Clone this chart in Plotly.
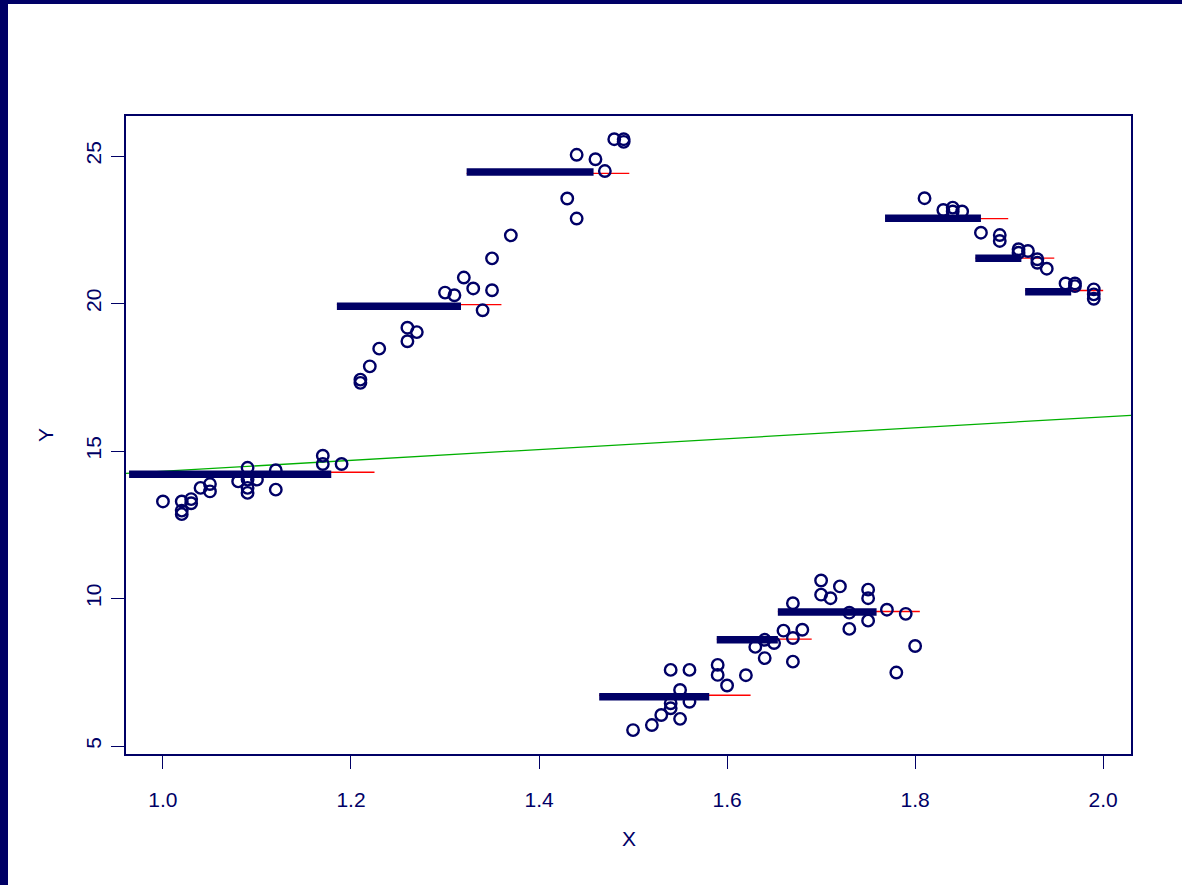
import plotly.graph_objects as go

NAVY = "#000066"
FONT = "Liberation Sans, Arial, Helvetica, sans-serif"

# observations (x on a 0.01 grid)
x_obs = [
    1.00, 1.02, 1.02, 1.02, 1.03, 1.03, 1.04, 1.05, 1.05, 1.08,
    1.09, 1.09, 1.09, 1.09, 1.10, 1.12, 1.12, 1.17, 1.17, 1.19,
    1.21, 1.21, 1.22, 1.23, 1.26, 1.26, 1.27, 1.30, 1.31, 1.32,
    1.33, 1.34, 1.35, 1.35, 1.37,
    1.43, 1.44, 1.44, 1.46, 1.47, 1.48, 1.49, 1.49,
    1.50, 1.52, 1.53, 1.54, 1.54, 1.54, 1.55, 1.55, 1.56, 1.56,
    1.59, 1.59, 1.60, 1.62, 1.63, 1.64, 1.64, 1.65, 1.66, 1.67,
    1.67, 1.67, 1.68, 1.70, 1.70, 1.71, 1.72, 1.73, 1.73, 1.75,
    1.75, 1.75, 1.77, 1.78, 1.79, 1.80,
    1.81, 1.83, 1.84, 1.84, 1.85, 1.87, 1.89, 1.89, 1.91, 1.91,
    1.92, 1.93, 1.93, 1.94, 1.96, 1.97, 1.97, 1.99, 1.99, 1.99,
]
y_obs = [
    13.29, 13.29, 12.98, 12.86, 13.37, 13.23, 13.75, 13.88, 13.63, 13.97,
    14.43, 14.03, 13.75, 13.58, 14.03, 14.35, 13.69, 14.84, 14.56, 14.56,
    17.42, 17.31, 17.87, 18.47, 19.18, 18.72, 19.03, 20.37, 20.28, 20.88,
    20.51, 19.77, 20.45, 21.53, 22.31,
    23.56, 25.04, 22.88, 24.89, 24.49, 25.57, 25.57, 25.48,
    5.54, 5.71, 6.05, 6.28, 6.45, 7.58, 6.90, 5.92, 7.58, 6.50,
    7.75, 7.41, 7.05, 7.40, 8.36, 8.60, 7.98, 8.49, 8.91, 9.84,
    8.66, 7.86, 8.94, 10.61, 10.13, 10.01, 10.41, 9.52, 8.97, 10.30,
    10.01, 9.25, 9.62, 7.49, 9.48, 8.39,
    23.57, 23.17, 23.25, 23.12, 23.12, 22.40, 22.32, 22.12, 21.84, 21.72,
    21.78, 21.50, 21.38, 21.18, 20.68, 20.68, 20.59, 20.48, 20.31, 20.16,
]

# piecewise-constant fit: interval starts, ends and levels
step_start = [0.964, 1.185, 1.323, 1.464, 1.589, 1.654, 1.768, 1.864, 1.917]
step_end = [1.179, 1.317, 1.458, 1.581, 1.654, 1.759, 1.870, 1.913, 1.966]
step_level = [14.21, 19.91, 24.46, 6.67, 8.60, 9.54, 22.89, 21.53, 20.40]

# extended steps drawn beneath
ext_end = [1.225, 1.360, 1.496, 1.625, 1.690, 1.805, 1.899, 1.948, 2.000]
ext_level = [14.28, 19.96, 24.41, 6.72, 8.62, 9.56, 22.88, 21.54, 20.44]

# straight-line fit across the x range
fit_x = [0.9607, 2.0296]
fit_y = [14.24, 16.21]

x_range = [0.9607, 2.0296]
y_range = [4.729, 26.356]
x_ticks = [1.0, 1.2, 1.4, 1.6, 1.8, 2.0]
y_ticks = [5, 10, 15, 20, 25]


def segments(starts, ends, levels):
    xs, ys = [], []
    for a, b, v in zip(starts, ends, levels):
        xs += [a, b, None]
        ys += [v, v, None]
    return xs, ys


fig = go.Figure()

fig.add_trace(go.Scatter(
    x=fit_x, y=fit_y, mode="lines",
    line=dict(color="#00b000", width=1.3), hoverinfo="skip",
))

ex, ey = segments(step_start, ext_end, ext_level)
fig.add_trace(go.Scatter(
    x=ex, y=ey, mode="lines",
    line=dict(color="#ff0000", width=1.3), hoverinfo="skip",
))

sx, sy = segments(step_start, step_end, step_level)
fig.add_trace(go.Scatter(
    x=sx, y=sy, mode="lines",
    line=dict(color=NAVY, width=7.5), hoverinfo="skip",
))

fig.add_trace(go.Scatter(
    x=x_obs, y=y_obs, mode="markers",
    marker=dict(symbol="circle-open", size=11.5, color=NAVY,
                line=dict(color=NAVY, width=2.4)),
))

axis_common = dict(
    showgrid=False, zeroline=False,
    showline=True, mirror=True, linecolor=NAVY, linewidth=1.5,
    ticks="outside", ticklen=13, tickwidth=1.2, tickcolor=NAVY,
    tickfont=dict(family=FONT, size=21, color=NAVY),
)

fig.update_xaxes(range=x_range, tickvals=x_ticks,
                 ticktext=[f"{v:.1f}" for v in x_ticks],
                 ticklabelstandoff=13, **axis_common)
fig.update_yaxes(range=y_range, tickvals=y_ticks,
                 ticktext=[str(v) for v in y_ticks], tickangle=-90,
                 ticklabelstandoff=2, **axis_common)

W = 1182
H = 885
L, R, T, B = 126, 51, 116, 131
pw = W - L - R
ph = H - T - B


def px_x(p):
    return (p - L) / pw


def px_y(p):
    return (H - B - p) / ph


fig.update_layout(
    width=W, height=H,
    margin=dict(l=L, r=R, t=T, b=B),
    paper_bgcolor="white", plot_bgcolor="white",
    showlegend=False,
    shapes=[
        dict(type="rect", xref="paper", yref="paper", layer="above",
             x0=px_x(0), x1=px_x(W), y0=px_y(4), y1=px_y(0),
             fillcolor=NAVY, line=dict(width=0)),
        dict(type="rect", xref="paper", yref="paper", layer="above",
             x0=px_x(0), x1=px_x(8), y0=px_y(H), y1=px_y(0),
             fillcolor=NAVY, line=dict(width=0)),
    ],
    annotations=[
        dict(text="X", xref="paper", yref="paper", x=0.5, y=0,
             xanchor="center", yanchor="middle", yshift=-84, showarrow=False,
             font=dict(family=FONT, size=21, color=NAVY)),
        dict(text="Y", xref="paper", yref="paper", x=0, y=0.5,
             xanchor="center", yanchor="middle", xshift=-81, showarrow=False,
             textangle=-90, font=dict(family=FONT, size=21, color=NAVY)),
    ],
)

fig.write_html("out.html")
